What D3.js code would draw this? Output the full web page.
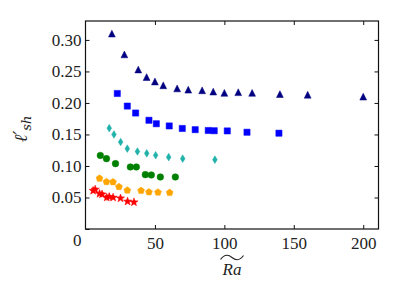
<!DOCTYPE html>
<html>
<head>
<meta charset="utf-8">
<script src="https://cdn.jsdelivr.net/npm/d3@7"></script>
<style>
  body { margin: 0; background: #fff; }
  svg { display: block; }
  .tick text { font-family: "Liberation Serif", "DejaVu Serif", serif; font-size: 17px; fill: #222; }
</style>
</head>
<body>
<svg id="chart" width="399" height="299"></svg>
<script>
// data: Ra~ vs l'_sh for six series
var triX = [19, 28, 38, 44, 50, 56, 66, 74, 84, 92, 100, 110, 120, 140, 160, 200];
var triY = [0.310, 0.277, 0.253, 0.241, 0.234, 0.228, 0.223, 0.221, 0.220, 0.218, 0.216, 0.217, 0.216, 0.214, 0.213, 0.210];

var sqX = [22.9, 30.1, 36.1, 45.7, 51.0, 60.3, 69.7, 79.0, 88.4, 92.7, 102.1, 116.3, 139.3];
var sqY = [0.215, 0.195, 0.184, 0.1725, 0.167, 0.1635, 0.1595, 0.1576, 0.1563, 0.1559, 0.1556, 0.1535, 0.152];

var diaX = [17.1, 20.5, 25.3, 30.1, 37.4, 44.1, 50.5, 59.9, 70.0, 93.2];
var diaY = [0.160, 0.150, 0.138, 0.1275, 0.123, 0.120, 0.117, 0.114, 0.1116, 0.110];

var cirX = [10.7, 15.1, 21.6, 32.3, 36.6, 43.1, 47.4, 53.9, 64.7];
var cirY = [0.1167, 0.1116, 0.1037, 0.0984, 0.0984, 0.0862, 0.0857, 0.0825, 0.0825];

var penX = [10.1, 15.1, 19.8, 24.1, 30.1, 40.0, 45.7, 52.2, 60.6];
var penY = [0.0802, 0.0749, 0.0746, 0.067, 0.0614, 0.0608, 0.0587, 0.0583, 0.0576];

var starX = [5.5, 7.0, 10.1, 11.9, 15.3, 17.1, 19.9, 25.2, 30.3, 34.9];
var starY = [0.0608, 0.0627, 0.056, 0.0551, 0.050, 0.0511, 0.050, 0.0487, 0.0437, 0.0425];

var xTicks = [50, 100, 150, 200];
var xTickLabels = ["50", "100", "150", "200"];
var yTicks = [0, 0.05, 0.10, 0.15, 0.20, 0.25, 0.30];
var yTickLabels = ["0", "0.05", "0.10", "0.15", "0.20", "0.25", "0.30"];

var svg = d3.select("#chart");
var padLeft = 85.5, padRight = 378.5, padTop = 21, padBottom = 229;

var x = d3.scaleLinear().domain([0, 211]).range([padLeft, padRight]);
var y = d3.scaleLinear().domain([0, 0.33]).range([padBottom, padTop]);

// marker paths, centred on the point
function triangle(r) {
  return "M0," + (-r) + "L" + r + "," + r + "L" + (-r) + "," + r + "Z";
}
function square(r) {
  return "M" + (-r) + "," + (-r) + "h" + (2 * r) + "v" + (2 * r) + "h" + (-2 * r) + "Z";
}
function thinDiamond(r) {
  var w = r * 0.62;
  return "M0," + (-r) + "L" + w + ",0L0," + r + "L" + (-w) + ",0Z";
}
function circle(r) {
  return "M" + r + ",0A" + r + "," + r + " 0 1,1 " + (-r) + ",0A" + r + "," + r + " 0 1,1 " + r + ",0Z";
}
function pentagon(r) {
  var pts = d3.range(5).map(function(i) {
    var a = -Math.PI / 2 + i * 2 * Math.PI / 5;
    return [r * Math.cos(a), r * Math.sin(a)];
  });
  return "M" + pts.join("L") + "Z";
}
function star(r) {
  var inner = r * 0.42;
  var pts = d3.range(10).map(function(i) {
    var a = -Math.PI / 2 + i * Math.PI / 5, rr = i % 2 ? inner : r;
    return [rr * Math.cos(a), rr * Math.sin(a)];
  });
  return "M" + pts.join("L") + "Z";
}

var series = [
  { xs: triX, ys: triY, color: "#000080", path: triangle(3.4) },
  { xs: sqX, ys: sqY, color: "#0000ff", path: square(3.1) },
  { xs: diaX, ys: diaY, color: "#20b2aa", path: thinDiamond(3.8) },
  { xs: cirX, ys: cirY, color: "#008000", path: circle(3.3) },
  { xs: penX, ys: penY, color: "#ffa500", path: pentagon(3.6) },
  { xs: starX, ys: starY, color: "#ff0000", path: star(4.3) }
];

// axes, ticks pointing inward on all four sides
var yAxis = svg.append("g")
  .attr("transform", "translate(" + padLeft + ",0)")
  .call(d3.axisLeft(y).tickValues(yTicks)
    .tickFormat(function(d, i) { return yTickLabels[i]; })
    .tickSize(-4).tickPadding(4));
yAxis.selectAll(".tick text")
  .attr("transform", function(d) { return d === 0 ? "translate(0,11)" : null; });

svg.append("g")
  .attr("transform", "translate(" + padRight + ",0)")
  .call(d3.axisRight(y).tickValues(yTicks.slice(1)).tickFormat("").tickSize(-4));

svg.append("g")
  .attr("transform", "translate(0," + padBottom + ")")
  .call(d3.axisBottom(x).tickValues(xTicks)
    .tickFormat(function(d, i) { return xTickLabels[i]; })
    .tickSize(-4).tickPadding(8));

svg.append("g")
  .attr("transform", "translate(0," + padTop + ")")
  .call(d3.axisTop(x).tickValues(xTicks).tickFormat("").tickSize(-4));

svg.selectAll(".domain").remove();
svg.selectAll(".tick line").attr("stroke", "#111").attr("stroke-width", 1);

svg.append("rect")
  .attr("x", padLeft).attr("y", padTop)
  .attr("width", padRight - padLeft).attr("height", padBottom - padTop)
  .attr("fill", "none").attr("stroke", "#111").attr("stroke-width", 1.2);

// markers
series.forEach(function(s) {
  svg.append("g").selectAll("path")
    .data(s.xs.map(function(v, i) { return [v, s.ys[i]]; }))
    .enter()
    .append("path")
    .attr("d", s.path)
    .attr("transform", function(d) { return "translate(" + x(d[0]) + "," + y(d[1]) + ")"; })
    .attr("fill", s.color)
    .attr("stroke", s.color)
    .attr("stroke-width", 0.5);
});

// x label: widetilde Ra
var cx = (padLeft + padRight) / 2;
svg.append("text")
  .attr("x", cx).attr("y", 275)
  .attr("text-anchor", "middle")
  .style("font-family", "Liberation Serif, DejaVu Serif, serif")
  .style("font-style", "italic")
  .style("font-size", "17px")
  .attr("fill", "#222")
  .text("Ra");
svg.append("path")
  .attr("d", "M" + (cx - 11.5) + ",259.5 C" + (cx - 7) + ",253.5 " + (cx - 3) + ",255 " + cx + ",257.5 S" + (cx + 7) + ",261.5 " + (cx + 11.5) + ",255.5")
  .attr("fill", "none").attr("stroke", "#222").attr("stroke-width", 1.1);

// y label: l'_sh
var yl = svg.append("text")
  .attr("transform", "translate(27," + ((padTop + padBottom) / 2 + 4) + ") rotate(-90)")
  .attr("text-anchor", "middle")
  .style("font-family", "DejaVu Serif, Liberation Serif, serif")
  .attr("fill", "#222")
  .style("font-size", "18px");
yl.append("tspan").style("font-style", "italic").text("\u2113\u2032");
yl.append("tspan").attr("dy", 4).style("font-style", "italic").style("font-size", "13px").text("sh");
</script>
</body>
</html>
